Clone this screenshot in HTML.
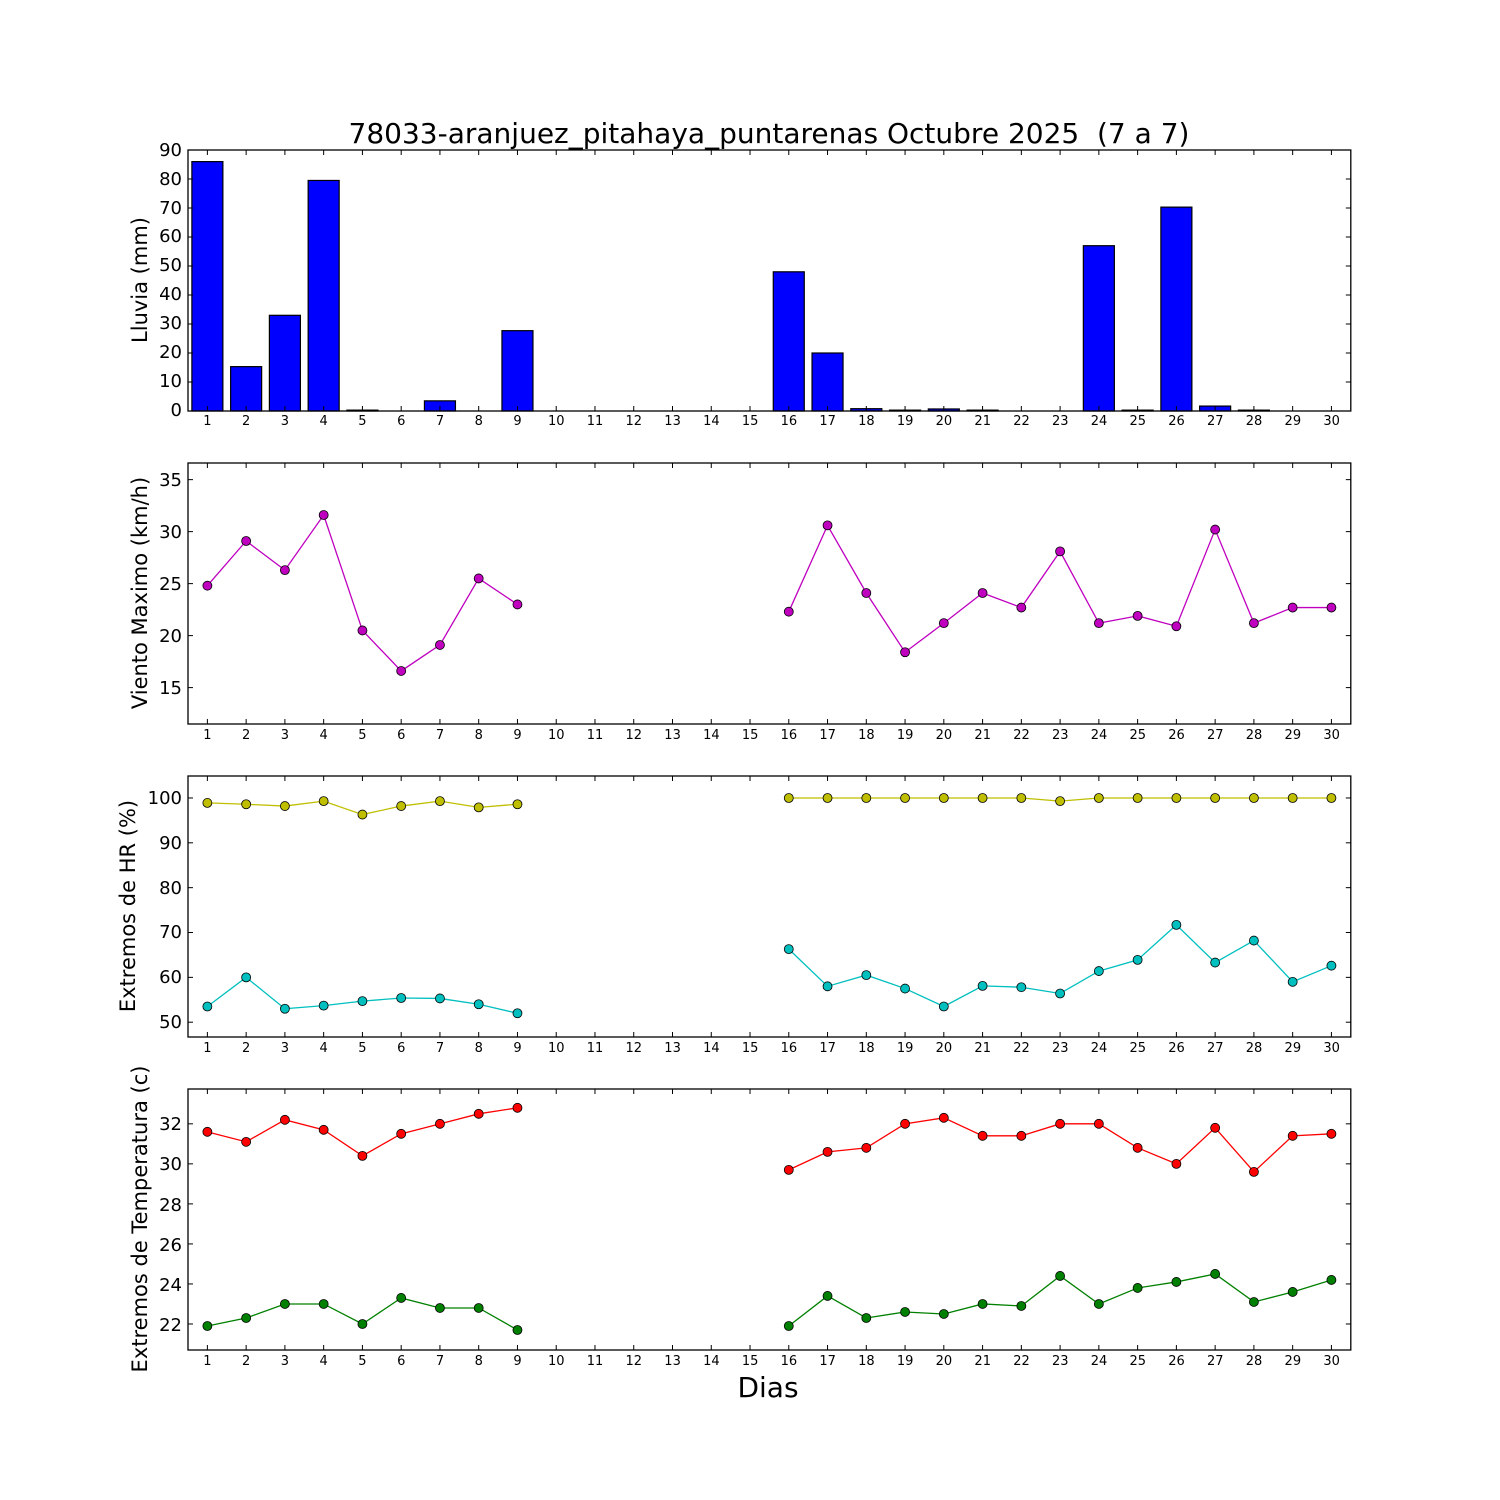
<!DOCTYPE html>
<html><head><meta charset="utf-8">
<style>
html,body{margin:0;padding:0;background:#fff;}
#wrap{position:relative;width:1500px;height:1500px;font-family:"DejaVu Sans","Liberation Sans",sans-serif;}
svg{position:absolute;left:0;top:0;}
.xl{position:absolute;left:188px;width:1162.8px;display:flex;font-size:13px;color:#000;}
.xl span{flex:1;text-align:center;}
text{font-family:"DejaVu Sans","Liberation Sans",sans-serif;}
.yt{font-size:18px;text-anchor:end;}
.yl{font-size:21px;text-anchor:middle;}
</style></head><body>
<div id="wrap">
<svg id="s" width="1500" height="1500" xmlns="http://www.w3.org/2000/svg">
<g id="data"></g>
<text x="769" y="143" font-size="28" text-anchor="middle" xml:space="preserve" style="white-space:pre">78033-aranjuez_pitahaya_puntarenas Octubre 2025  (7 a 7)</text>
<text x="768" y="1397" font-size="28" text-anchor="middle">Dias</text>
<g class="yt">
<text x="182" y="416">0</text><text x="182" y="387">10</text><text x="182" y="358">20</text><text x="182" y="329">30</text><text x="182" y="300">40</text><text x="182" y="271">50</text><text x="182" y="242">60</text><text x="182" y="214">70</text><text x="182" y="185">80</text><text x="182" y="156">90</text>
<text x="182" y="694">15</text><text x="182" y="642">20</text><text x="182" y="590">25</text><text x="182" y="538">30</text><text x="182" y="486">35</text>
<text x="182" y="1028">50</text><text x="182" y="983">60</text><text x="182" y="938">70</text><text x="182" y="894">80</text><text x="182" y="849">90</text><text x="182" y="804">100</text>
<text x="182" y="1331">22</text><text x="182" y="1291">24</text><text x="182" y="1251">26</text><text x="182" y="1211">28</text><text x="182" y="1170">30</text><text x="182" y="1130">32</text>
</g>
<g class="yl">
<text transform="translate(147,280) rotate(-90)">Lluvia (mm)</text>
<text transform="translate(147,593) rotate(-90)">Viento Maximo (km/h)</text>
<text transform="translate(135,906) rotate(-90)">Extremos de HR (%)</text>
<text transform="translate(147,1219) rotate(-90)">Extremos de Temperatura (c)</text>
</g>
</svg>
<div class="xl" style="top:414px"><span>1</span><span>2</span><span>3</span><span>4</span><span>5</span><span>6</span><span>7</span><span>8</span><span>9</span><span>10</span><span>11</span><span>12</span><span>13</span><span>14</span><span>15</span><span>16</span><span>17</span><span>18</span><span>19</span><span>20</span><span>21</span><span>22</span><span>23</span><span>24</span><span>25</span><span>26</span><span>27</span><span>28</span><span>29</span><span>30</span></div>
<div class="xl" style="top:728px"><span>1</span><span>2</span><span>3</span><span>4</span><span>5</span><span>6</span><span>7</span><span>8</span><span>9</span><span>10</span><span>11</span><span>12</span><span>13</span><span>14</span><span>15</span><span>16</span><span>17</span><span>18</span><span>19</span><span>20</span><span>21</span><span>22</span><span>23</span><span>24</span><span>25</span><span>26</span><span>27</span><span>28</span><span>29</span><span>30</span></div>
<div class="xl" style="top:1041px"><span>1</span><span>2</span><span>3</span><span>4</span><span>5</span><span>6</span><span>7</span><span>8</span><span>9</span><span>10</span><span>11</span><span>12</span><span>13</span><span>14</span><span>15</span><span>16</span><span>17</span><span>18</span><span>19</span><span>20</span><span>21</span><span>22</span><span>23</span><span>24</span><span>25</span><span>26</span><span>27</span><span>28</span><span>29</span><span>30</span></div>
<div class="xl" style="top:1354px"><span>1</span><span>2</span><span>3</span><span>4</span><span>5</span><span>6</span><span>7</span><span>8</span><span>9</span><span>10</span><span>11</span><span>12</span><span>13</span><span>14</span><span>15</span><span>16</span><span>17</span><span>18</span><span>19</span><span>20</span><span>21</span><span>22</span><span>23</span><span>24</span><span>25</span><span>26</span><span>27</span><span>28</span><span>29</span><span>30</span></div>
</div>
<script>
var g=document.getElementById('data'),h='';
var L=188,R=1350.8,W=(R-L)/30;function X(d){return L+(d-0.5)*W;}
var P=[{t:150,b:411,min:0,max:90,ticks:[0,10,20,30,40,50,60,70,80,90]},
{t:463,b:724,min:11.5,max:36.6,ticks:[15,20,25,30,35]},
{t:776,b:1037,min:46.7,max:104.9,ticks:[50,60,70,80,90,100]},
{t:1089,b:1350,min:20.7,max:33.74,ticks:[22,24,26,28,30,32]}];
function Y(p,v){return p.b-(v-p.min)/(p.max-p.min)*(p.b-p.t);}
var N=null;
var rain=[86,15.3,33,79.5,0.3,0,3.5,0,27.7,0,0,0,0,0,0,48,20,0.8,0.3,0.7,0.3,0,0,57,0.3,70.3,1.7,0.3,0,0];
rain.forEach(function(v,i){if(v<=0)return;var y=Y(P[0],v);h+='<rect x="'+(X(i+1)-W*0.4)+'" y="'+y+'" width="'+(W*0.8)+'" height="'+(P[0].b-y)+'" fill="#0000ff" stroke="#000" stroke-width="1.2"/>';});
function series(p,vals,col){var seg=[],pts='';vals.forEach(function(v,i){if(v===N){if(seg.length)pts+=line(seg,col);seg=[];}else seg.push([X(i+1),Y(p,v)]);});if(seg.length)pts+=line(seg,col);
vals.forEach(function(v,i){if(v!==N)pts+='<circle cx="'+X(i+1)+'" cy="'+Y(p,v)+'" r="4.5" fill="'+col+'" stroke="#000" stroke-width="0.8"/>';});h+=pts;}
function line(s,col){return '<polyline fill="none" stroke="'+col+'" stroke-width="1.3" points="'+s.map(function(a){return a.join(',');}).join(' ')+'"/>';}
function mk(a){var o=a.slice(0,9);for(var i=0;i<6;i++)o.push(N);return o.concat(a.slice(9));}
series(P[1],mk([24.8,29.1,26.3,31.6,20.5,16.6,19.1,25.5,23.0,22.3,30.6,24.1,18.4,21.2,24.1,22.7,28.1,21.2,21.9,20.9,30.2,21.2,22.7,22.7]),'#bf00bf');
series(P[2],mk([98.9,98.6,98.2,99.3,96.3,98.2,99.3,97.9,98.6,100,100,100,100,100,100,100,99.3,100,100,100,100,100,100,100]),'#bfbf00');
series(P[2],mk([53.5,60,53,53.7,54.7,55.4,55.3,54,52,66.3,58,60.5,57.5,53.5,58.1,57.8,56.4,61.4,63.9,71.7,63.3,68.2,59,62.6]),'#00bfbf');
series(P[3],mk([31.6,31.1,32.2,31.7,30.4,31.5,32,32.5,32.8,29.7,30.6,30.8,32,32.3,31.4,31.4,32,32,30.8,30,31.8,29.6,31.4,31.5]),'#ff0000');
series(P[3],mk([21.9,22.3,23,23,22,23.3,22.8,22.8,21.7,21.9,23.4,22.3,22.6,22.5,23,22.9,24.4,23,23.8,24.1,24.5,23.1,23.6,24.2]),'#008000');
P.forEach(function(p){h+='<rect x="'+L+'" y="'+p.t+'" width="'+(R-L)+'" height="'+(p.b-p.t)+'" fill="none" stroke="#000" stroke-width="1.3"/>';
for(var d=1;d<=30;d++){var x=X(d);h+='<line x1="'+x+'" x2="'+x+'" y1="'+p.b+'" y2="'+(p.b-5)+'" stroke="#000"/><line x1="'+x+'" x2="'+x+'" y1="'+p.t+'" y2="'+(p.t+5)+'" stroke="#000"/>';}
p.ticks.forEach(function(v){var y=Y(p,v);h+='<line x1="'+L+'" x2="'+(L+5)+'" y1="'+y+'" y2="'+y+'" stroke="#000"/><line x1="'+(R-5)+'" x2="'+R+'" y1="'+y+'" y2="'+y+'" stroke="#000"/>';});});
g.innerHTML=h;
</script>
</body></html>
